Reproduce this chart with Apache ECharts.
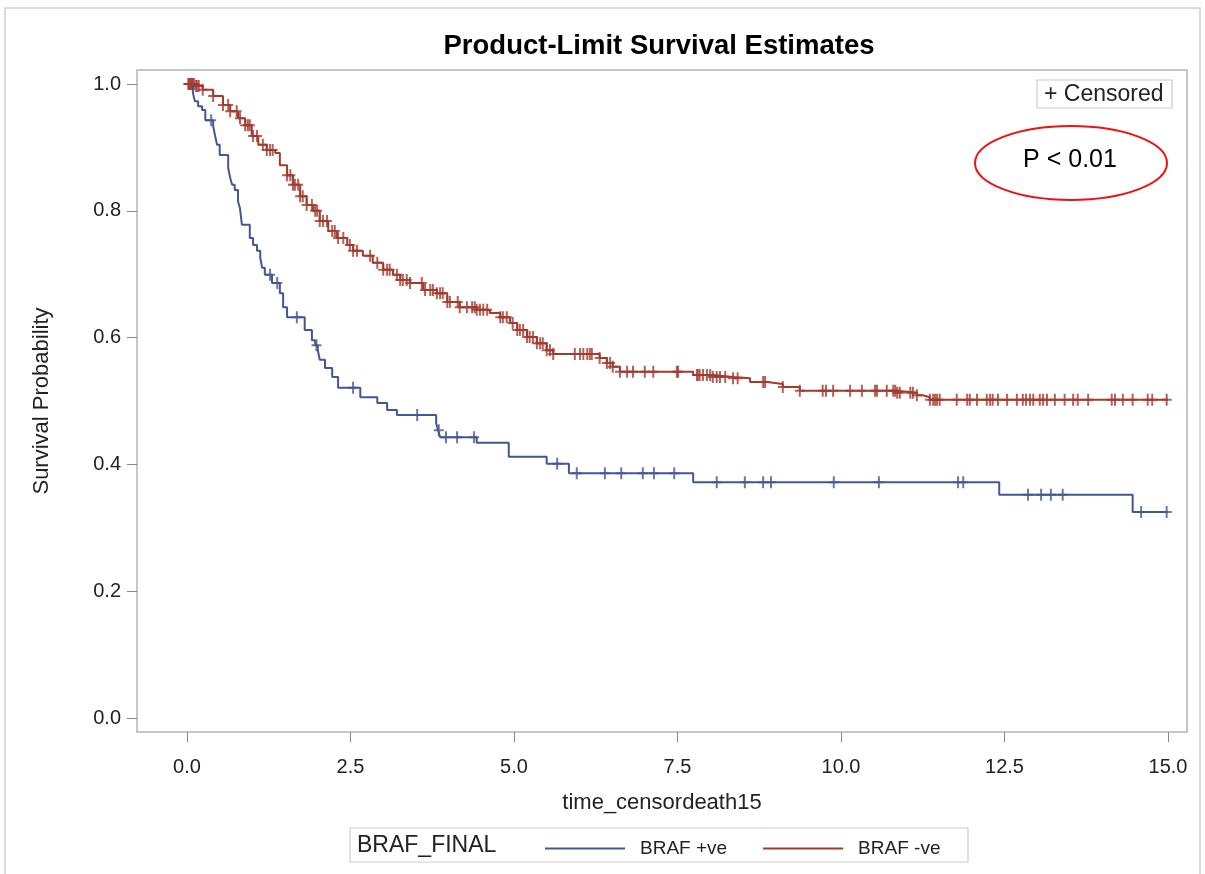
<!DOCTYPE html>
<html>
<head>
<meta charset="utf-8">
<script src="https://cdn.jsdelivr.net/npm/echarts@6/dist/echarts.min.js"></script>
<style>
html,body{margin:0;padding:0;background:#fff;}
#chart{width:1205px;height:874px;}
</style>
</head>
<body>
<div id="chart"></div>
<script>
// ---------- data ----------
var xTicks = [0, 2.5, 5, 7.5, 10, 12.5, 15];
var yTicks = [0, 0.2, 0.4, 0.6, 0.8, 1.0];

// BRAF +ve : event times and survival after each step
var blueT = [0,0.09,0.12,0.17,0.23,0.28,0.40,0.43,0.46,0.50,0.63,0.66,0.69,0.73,0.78,0.81,0.84,0.96,1.01,1.07,1.12,1.15,1.19,1.30,1.42,1.47,1.53,1.80,1.91,1.96,2.00,2.03,2.11,2.22,2.31,2.65,2.91,3.06,3.21,3.81,3.84,3.87,4.43,4.92,5.50,5.84,7.74,12.42,14.46];
var blueS = [1.0,0.986,0.973,0.965,0.959,0.943,0.934,0.918,0.904,0.888,0.868,0.852,0.841,0.833,0.815,0.804,0.778,0.757,0.746,0.737,0.726,0.710,0.699,0.686,0.670,0.648,0.632,0.612,0.596,0.588,0.580,0.565,0.552,0.538,0.521,0.506,0.497,0.486,0.478,0.465,0.454,0.443,0.434,0.412,0.401,0.386,0.372,0.352,0.325];
var blueCensor = [0.37,1.27,1.38,1.68,1.98,2.54,3.52,3.85,3.96,4.13,4.39,5.66,5.96,6.39,6.64,6.97,7.14,7.45,8.10,8.53,8.81,8.93,9.89,10.58,11.79,11.87,12.86,13.06,13.21,13.39,14.59,14.98];

// BRAF -ve
var redT = [0,0.12,0.24,0.40,0.55,0.66,0.78,0.89,0.99,1.09,1.22,1.35,1.42,1.53,1.62,1.73,1.83,1.93,2.03,2.16,2.29,2.45,2.54,2.69,2.84,3.00,3.15,3.26,3.41,3.61,3.82,3.98,4.17,4.43,4.63,4.79,4.94,5.05,5.20,5.35,5.50,5.60,6.31,6.42,6.51,6.62,7.74,8.04,8.35,8.61,8.87,9.11,9.37,10.86,11.16,11.25,11.36];
var redS = [1.0,0.997,0.991,0.981,0.967,0.957,0.946,0.935,0.918,0.904,0.896,0.891,0.872,0.856,0.841,0.823,0.809,0.800,0.784,0.768,0.757,0.746,0.737,0.729,0.718,0.707,0.699,0.691,0.686,0.675,0.670,0.656,0.648,0.644,0.639,0.632,0.623,0.612,0.601,0.591,0.580,0.574,0.568,0.560,0.554,0.546,0.541,0.538,0.536,0.530,0.527,0.522,0.516,0.513,0.509,0.506,0.502];
var redCensor = [0.02,0.03,0.05,0.06,0.08,0.09,0.11,0.14,0.15,0.18,
0.24,0.40,0.55,0.63,0.66,0.76,0.81,0.89,0.93,0.96,1.01,1.07,1.16,1.22,1.27,1.31,
1.53,1.58,1.62,1.65,1.70,1.73,1.77,1.83,1.91,1.96,1.99,2.03,2.08,2.14,2.22,2.26,2.31,2.39,2.49,2.54,2.60,2.80,2.91,3.00,3.06,3.10,3.21,
3.26,3.30,3.36,3.41,3.59,3.64,3.72,3.76,3.82,3.87,3.91,3.98,4.02,4.14,4.17,4.28,4.36,4.40,4.43,4.48,4.53,4.59,4.79,4.83,4.89,4.98,5.05,5.09,5.14,5.20,5.24,5.29,5.35,5.40,5.44,5.50,5.55,5.60,
5.93,6.01,6.06,6.12,6.16,6.19,6.31,6.42,6.47,6.51,6.62,6.73,6.82,7.00,7.13,7.49,7.51,7.80,7.81,7.84,7.89,7.95,8.00,8.04,8.10,8.15,8.23,8.35,8.42,
8.81,8.84,9.11,9.37,9.72,9.77,9.88,10.14,10.32,10.52,10.55,10.70,10.80,10.83,10.86,10.90,11.06,11.10,11.16,11.36,11.41,11.44,11.47,11.51,11.77,11.93,11.97,12.08,12.23,12.28,12.32,12.40,12.54,12.69,12.78,12.83,12.89,12.94,13.04,13.09,13.15,13.27,13.42,13.55,13.62,13.78,14.14,14.19,14.31,14.46,14.69,14.76,14.98];

var xEnd = 15;

// ---------- helpers ----------
function curve(T, S) {
  var d = T.map(function (t, i) { return [t, S[i]]; });
  d.push([xEnd, S[S.length - 1]]);
  return d;
}
function survAt(T, S, t) {
  var v = S[0];
  for (var i = 0; i < T.length; i++) { if (T[i] <= t) v = S[i]; }
  return v;
}
function censorPts(C, T, S) {
  return C.map(function (t) { return [t, survAt(T, S, t)]; });
}

var BLUE = '#445694', RED = '#A23A2E';
var FONT = '"Liberation Sans", Arial, sans-serif';
var PLUS = 'path://M4,0H6V5H10V7H6V12H4V7H0V5H4Z';

var chart = echarts.init(document.getElementById('chart'), null, {renderer: 'canvas'});
chart.setOption({
  animation: false,
  backgroundColor: '#fff',
  title: {
    text: 'Product-Limit Survival Estimates',
    left: 654, top: 27, textAlign: 'center',
    textStyle: {fontFamily: FONT, fontWeight: 'bold', fontSize: 27.5, color: '#000'}
  },
  grid: {left: 137, right: 18, top: 70, bottom: 142, containLabel: false,
    show: true, borderColor: '#b4b4b4', borderWidth: 1.5, backgroundColor: 'transparent'},
  xAxis: {
    type: 'value', min: -0.7645, max: 15.291,
    name: 'time_censordeath15', nameLocation: 'middle', nameGap: 60,
    nameTextStyle: {fontFamily: FONT, fontSize: 22, color: '#222'},
    axisLine: {show: false, onZero: false},
    axisTick: {show: true, length: 10, customValues: xTicks, lineStyle: {color: '#888', width: 1}},
    axisLabel: {margin: 25, customValues: xTicks, fontFamily: FONT, fontSize: 20, color: '#222',
      formatter: function (v) { return v.toFixed(1); }},
    splitLine: {show: false}
  },
  yAxis: {
    type: 'value', min: -0.0221, max: 1.0221,
    name: 'Survival Probability', nameLocation: 'middle', nameGap: 84, nameRotate: 90,
    nameTextStyle: {fontFamily: FONT, fontSize: 22, color: '#222'},
    axisLine: {show: false, onZero: false},
    axisTick: {show: true, length: 10, customValues: yTicks, lineStyle: {color: '#888', width: 1}},
    axisLabel: {margin: 16, customValues: yTicks, fontFamily: FONT, fontSize: 20, color: '#222',
      formatter: function (v) { return v.toFixed(1); }},
    splitLine: {show: false}
  },
  legend: {
    data: [{name: 'BRAF +ve', icon: 'rect'}, {name: 'BRAF -ve', icon: 'rect'}],
    left: 540, top: 834, itemWidth: 80, itemHeight: 2, itemGap: 36,
    textStyle: {fontFamily: FONT, fontSize: 19, color: '#222', padding: [0, 0, 0, 10]}
  },
  series: [
    {name: 'BRAF +ve', type: 'line', step: 'end', data: curve(blueT, blueS),
      showSymbol: false, lineStyle: {color: BLUE, width: 2}, itemStyle: {color: BLUE}, clip: false},
    {name: 'BRAF -ve', type: 'line', step: 'end', data: curve(redT, redS),
      showSymbol: false, lineStyle: {color: RED, width: 2}, itemStyle: {color: RED}, clip: false},
    {name: 'blueCensor', type: 'scatter', data: censorPts(blueCensor, blueT, blueS),
      symbol: PLUS, symbolSize: [10, 12], itemStyle: {color: BLUE}, clip: false, silent: true},
    {name: 'redCensor', type: 'scatter', data: censorPts(redCensor, redT, redS),
      symbol: PLUS, symbolSize: [10, 12], itemStyle: {color: RED}, clip: false, silent: true}
  ],
  graphic: [
    {type: 'rect', shape: {x: 5, y: 8, width: 1195, height: 880}, style: {fill: 'none', stroke: '#d0d0d0', lineWidth: 1.5}, z: -10},
    {type: 'rect', shape: {x: 1037, y: 80, width: 135, height: 28}, style: {fill: '#fff', stroke: '#cccccc', lineWidth: 1.2}, z: 6},
    {type: 'text', x: 1044, y: 95, style: {text: '+ Censored', font: '23px ' + FONT, fill: '#222', textVerticalAlign: 'middle'}, z: 7},
    {type: 'ellipse', shape: {cx: 1071, cy: 163, rx: 96, ry: 37}, style: {fill: 'none', stroke: '#ee1111', lineWidth: 2}, z: 6},
    {type: 'text', x: 1070, y: 160, style: {text: 'P < 0.01', font: '25px ' + FONT, fill: '#000', textAlign: 'center', textVerticalAlign: 'middle'}, z: 7},
    {type: 'rect', shape: {x: 350, y: 828, width: 618, height: 34}, style: {fill: 'none', stroke: '#cccccc', lineWidth: 1.2}, z: 6},
    {type: 'text', x: 357, y: 846, style: {text: 'BRAF_FINAL', font: '23px ' + FONT, fill: '#222', textVerticalAlign: 'middle'}, z: 7}
  ]
});
</script>
</body>
</html>
